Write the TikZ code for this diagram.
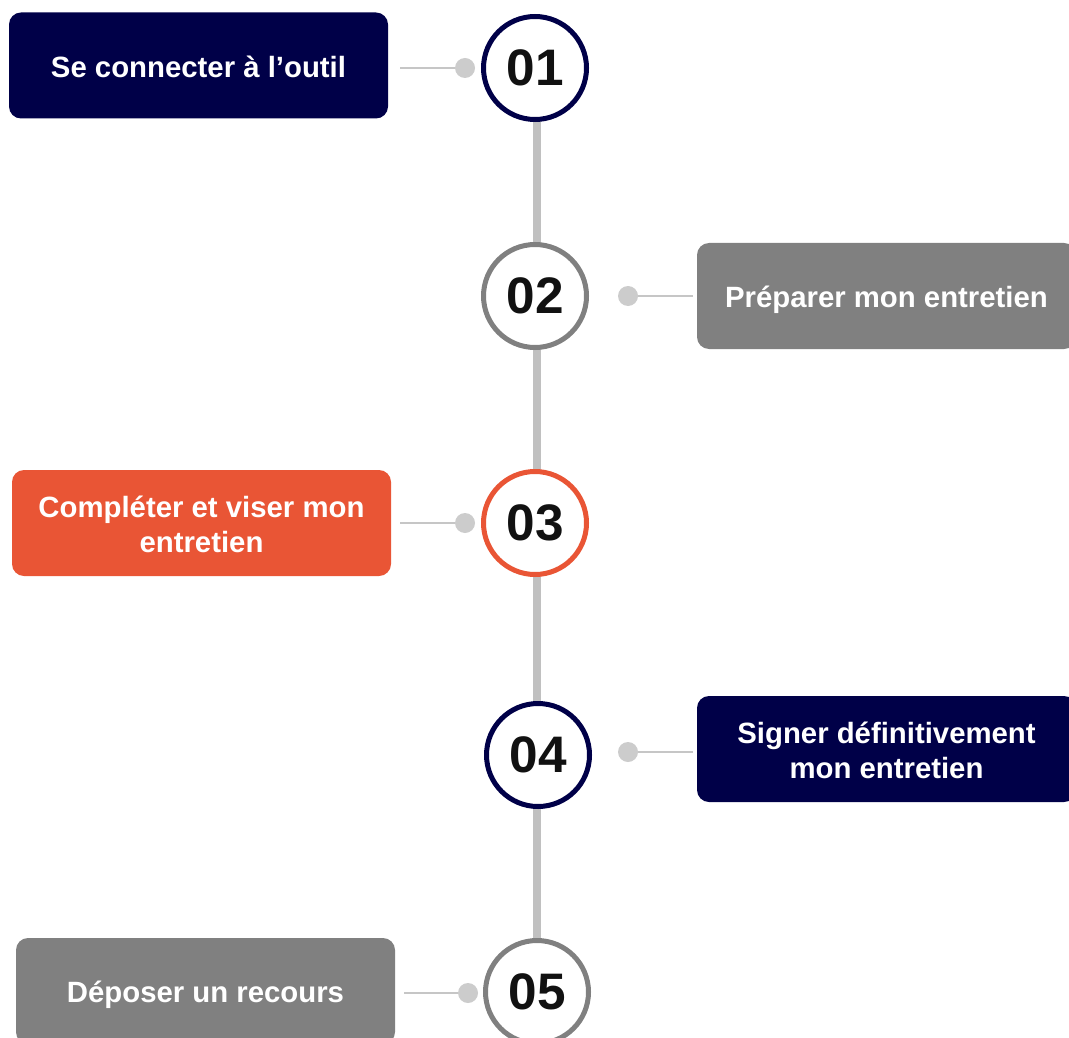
\documentclass[tikz,border=0pt]{standalone}
\usepackage{fontspec}
\setmainfont{Liberation Sans}
\usetikzlibrary{backgrounds}
\definecolor{navy}{HTML}{000048}
\definecolor{orng}{HTML}{E95535}
\definecolor{midgray}{HTML}{808080}
\definecolor{spine}{HTML}{C0C0C0}
\definecolor{dotgray}{HTML}{CCCCCC}
\definecolor{numtext}{HTML}{111111}
\newcommand\boxtext[1]{\raisebox{-8.75pt}[0pt][0pt]{\begin{tabular}{@{}c@{}}#1\end{tabular}}}
\tikzset{
  stepbox/.style={rectangle, rounded corners=9pt, minimum width=284.25pt, minimum height=79.5pt,
    text=white, font=\bfseries\fontsize{22}{26}\selectfont, inner sep=0pt},
  numcircle/.style={circle, draw=#1, line width=3.75pt, fill=white, minimum size=77.25pt, inner sep=0pt,
    text=numtext, font=\bfseries\fontsize{38.5}{40}\selectfont},
  dotnode/.style={circle, fill=dotgray, minimum size=15pt, inner sep=0pt},
  link/.style={draw=spine!90!white, line width=1.5pt},
  spineline/.style={draw=spine, line width=6pt}
}
\begin{document}
\begin{tikzpicture}[x=0.75pt,y=-0.75pt]
\useasboundingbox (0,0) rectangle (1069,1037);
% boxes
\node[stepbox, fill=navy] (b1) at (198.5,65.5) {\boxtext{Se connecter à l’outil}};
\node[stepbox, fill=midgray] (b2) at (886.5,296) {\boxtext{Préparer mon entretien}};
\node[stepbox, fill=orng] (b3) at (201.5,523) {\boxtext{Compléter et viser mon\\entretien}};
\node[stepbox, fill=navy] (b4) at (886.5,749) {\boxtext{Signer définitivement\\mon entretien}};
\node[stepbox, fill=midgray] (b5) at (205.5,991) {\boxtext{Déposer un recours}};
% circles
\node[numcircle=navy] (c1) at (535,68) {01};
\node[numcircle=midgray] (c2) at (535,296) {02};
\node[numcircle=orng] (c3) at (535,523) {03};
\node[numcircle=navy] (c4) at (538,755) {04};
\node[numcircle=midgray] (c5) at (537,992) {05};
% dots
\node[dotnode] (d1) at (465,68) {};
\node[dotnode] (d2) at (628,296) {};
\node[dotnode] (d3) at (465,523) {};
\node[dotnode] (d4) at (628,752) {};
\node[dotnode] (d5) at (468,993) {};
\coordinate (e1) at (400,68);
\coordinate (e2) at (693,296);
\coordinate (e3) at (400,523);
\coordinate (e4) at (693,752);
\coordinate (e5) at (404,993);
\begin{pgfonlayer}{background}
\draw[spineline] (c1.center -| c5.center) -- (c5.center);
\draw[link] (e1) -- (d1.center);
\draw[link] (e2) -- (d2.center);
\draw[link] (e3) -- (d3.center);
\draw[link] (e4) -- (d4.center);
\draw[link] (e5) -- (d5.center);
\end{pgfonlayer}
\end{tikzpicture}
\end{document}
